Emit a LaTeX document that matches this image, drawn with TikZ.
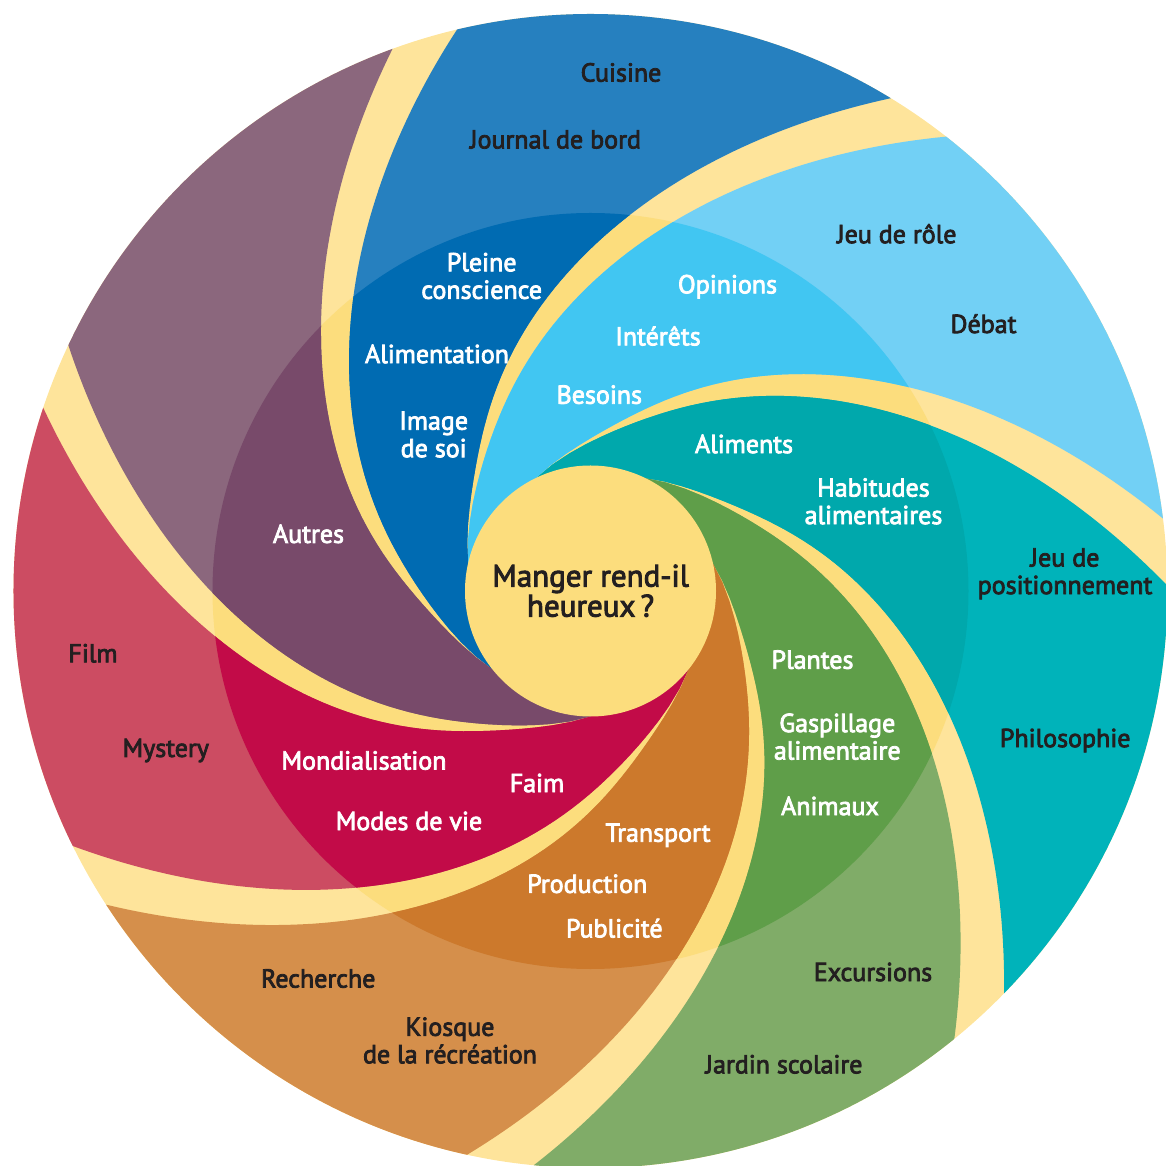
\documentclass[tikz,border=0pt]{standalone}
\usepackage{fontspec}
\setmainfont{PT Sans}[FakeBold=3]
\definecolor{yelO}{HTML}{FEE49B}
\definecolor{yelI}{HTML}{FCDD7D}
\definecolor{blueO}{HTML}{2680BF}
\definecolor{blueI}{HTML}{006BB2}
\definecolor{purpO}{HTML}{8B677D}
\definecolor{purpI}{HTML}{784A6A}
\definecolor{redO}{HTML}{CC4C62}
\definecolor{redI}{HTML}{C20B48}
\definecolor{orO}{HTML}{D58F4B}
\definecolor{orI}{HTML}{CC792C}
\definecolor{grO}{HTML}{80AC68}
\definecolor{grI}{HTML}{5F9E49}
\definecolor{teO}{HTML}{00B3BA}
\definecolor{teI}{HTML}{00A8AC}
\definecolor{lbO}{HTML}{72D0F5}
\definecolor{lbI}{HTML}{41C6F2}
\definecolor{txtdark}{HTML}{231F20}
\tikzset{
  lbl/.style={font=\fontsize{26}{27.5}\selectfont, align=center, inner sep=0pt},
  dk/.style={lbl, text=txtdark},
  wt/.style={lbl, text=white}
}
% spiral arm: f(r) = -62 - 60.2 ln(r/220) + 24 exp(-(r-125)/22); band gap g(r) = 6.7 (1 - exp(-(r-125)/55))
\def\secpath{plot[domain=125:620,samples=70,variable=\rr] ({-62-60.2*ln(\rr/220)+24*exp(-(\rr-125)/22)+6.7*(1-exp(-(\rr-125)/55))}:{\rr pt}) -- (-95.4:720pt) -- plot[domain=620:125,samples=70,variable=\rr] ({51.4286-62-60.2*ln(\rr/220)+24*exp(-(\rr-125)/22)}:{\rr pt}) -- cycle}
\begin{document}
\begin{tikzpicture}[x=1pt,y=1pt]
\useasboundingbox (-590.5,-575) rectangle (575.5,591);
% yellow background
\fill[yelO] (0,0) circle (577pt);
\fill[yelI] (0,0) circle (378pt);
% outer sectors
\begin{scope}
  \clip (0,0) circle (577pt);
  \foreach \j/\co in {0/blueO,1/purpO,2/redO,3/orO,4/grO,5/teO,6/lbO}{
    \pgfmathsetmacro\rot{172+51.4286*\j}
    \fill[\co, rotate=\rot] \secpath;
  }
\end{scope}
% inner sectors
\begin{scope}
  \clip (0,0) circle (378pt);
  \foreach \j/\co in {0/blueI,1/purpI,2/redI,3/orI,4/grI,5/teI,6/lbI}{
    \pgfmathsetmacro\rot{172+51.4286*\j}
    \fill[\co, rotate=\rot] \secpath;
  }
\end{scope}
% centre
\fill[yelI] (0,0) circle (125.5pt);
\node[dk, font=\fontsize{31}{30}\selectfont] (centre) at (0.1,0.2) {Manger rend-il\\heureux\,?};
% outer labels
\node[dk] (cuisine) at (30.5,518.5) {Cuisine};
\node[dk] (journal) at (-35,451.5) {Journal de bord};
\node[dk] (jeuderole) at (306.3,357.2) {Jeu de rôle};
\node[dk] (debat) at (393,267.2) {Débat};
\node[dk] (jeupos) at (474.5,17.2) {Jeu de\\positionnement};
\node[dk] (philo) at (474.7,-149.5) {Philosophie};
\node[dk] (excursions) at (282.5,-381) {Excursions};
\node[dk] (jardin) at (193.5,-473.3) {Jardin scolaire};
\node[dk] (recherche) at (-272.2,-387.5) {Recherche};
\node[dk] (kiosque) at (-140.5,-449.5) {Kiosque\\de la récréation};
\node[dk] (mystery) at (-424.7,-159.5) {Mystery};
\node[dk] (film) at (-497.5,-62.3) {Film};
% inner labels
\node[wt] (pleine) at (-108.8,315) {Pleine\\conscience};
\node[wt] (alimentation) at (-153.5,237) {Alimentation};
\node[wt] (image) at (-156.8,156.5) {Image\\de soi};
\node[wt] (opinions) at (137,304.3) {Opinions};
\node[wt] (interets) at (67.5,255) {Intérêts};
\node[wt] (besoins) at (8.8,196.3) {Besoins};
\node[wt] (aliments) at (153.5,147) {Aliments};
\node[wt] (habitudes) at (283,89.7) {Habitudes\\alimentaires};
\node[wt] (autres) at (-282,57.2) {Autres};
\node[wt] (plantes) at (222,-68.7) {Plantes};
\node[wt] (gaspillage) at (246.8,-145.7) {Gaspillage\\alimentaire};
\node[wt] (animaux) at (239.5,-215) {Animaux};
\node[wt] (mondialisation) at (-226.5,-169.5) {Mondialisation};
\node[wt] (faim) at (-53.5,-192) {Faim};
\node[wt] (modes) at (-181.5,-230) {Modes de vie};
\node[wt] (transport) at (67.5,-244.2) {Transport};
\node[wt] (production) at (-3.2,-292.8) {Production};
\node[wt] (publicite) at (23.8,-337.2) {Publicité};
\end{tikzpicture}
\end{document}
